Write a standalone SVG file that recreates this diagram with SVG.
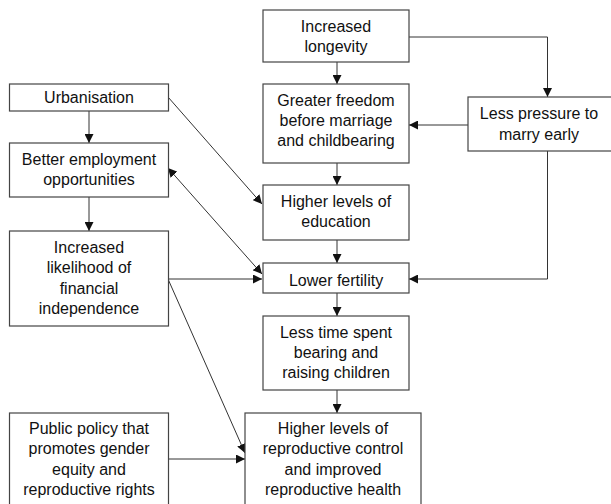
<svg xmlns="http://www.w3.org/2000/svg" width="611" height="504" viewBox="0 0 611 504">
<style>
.box{fill:#fff;stroke:#444;stroke-width:1.2}
text{font-family:"Liberation Sans",Arial,sans-serif;font-size:16px;fill:#111;text-anchor:middle}
.c{fill:none;stroke:#333;stroke-width:1}
</style>
<defs>
<marker id="a" viewBox="0 0 10 10" refX="10" refY="5" markerWidth="9" markerHeight="9" markerUnits="userSpaceOnUse" orient="auto-start-reverse">
<path d="M0,0 L10,5 L0,10 z" fill="#111"/>
</marker>
</defs>
<rect width="611" height="504" fill="#fff"/>
<g id="connectors">
<path class="c" d="M337,62 V84" marker-end="url(#a)"/>
<path class="c" d="M409,37 H547.5 V97" marker-end="url(#a)"/>
<path class="c" d="M468,125 H409" marker-end="url(#a)"/>
<path class="c" d="M337,163 V185" marker-end="url(#a)"/>
<path class="c" d="M337,240 V263" marker-end="url(#a)"/>
<path class="c" d="M547.5,151 V279 H409" marker-end="url(#a)"/>
<path class="c" d="M337,293 V316" marker-end="url(#a)"/>
<path class="c" d="M337,390 V413" marker-end="url(#a)"/>
<path class="c" d="M89,111 V143" marker-end="url(#a)"/>
<path class="c" d="M89,197 V231" marker-end="url(#a)"/>
<path class="c" d="M168,97 L262,204" marker-end="url(#a)"/>
<path class="c" d="M168,168 L262,274" marker-start="url(#a)" marker-end="url(#a)"/>
<path class="c" d="M168,279 H262" marker-end="url(#a)"/>
<path class="c" d="M168,279 L245,453" marker-end="url(#a)"/>
<path class="c" d="M168,459 H245" marker-end="url(#a)"/>
</g>
<g id="n-longevity"><rect class="box" x="263" y="10" width="146" height="52"/>
<text x="336" y="31.5">Increased</text><text x="336" y="51.5">longevity</text></g>
<g id="n-freedom"><rect class="box" x="263" y="84" width="146" height="79"/>
<text x="336" y="105.5">Greater freedom</text><text x="336" y="125.5">before marriage</text><text x="336" y="145.5">and childbearing</text></g>
<g id="n-pressure"><rect class="box" x="468" y="97" width="145" height="54"/>
<text x="539" y="119">Less pressure to</text><text x="539" y="140">marry early</text></g>
<g id="n-urban"><rect class="box" x="9.5" y="84" width="159" height="27"/>
<text x="89" y="103">Urbanisation</text></g>
<g id="n-employment"><rect class="box" x="9.5" y="143" width="159" height="54"/>
<text x="89" y="164.5">Better employment</text><text x="89" y="184.5">opportunities</text></g>
<g id="n-education"><rect class="box" x="263" y="185" width="146" height="55"/>
<text x="336" y="206.5">Higher levels of</text><text x="336" y="226.5">education</text></g>
<g id="n-financial"><rect class="box" x="9.5" y="231" width="159" height="95"/>
<text x="89" y="252.5">Increased</text><text x="89" y="273">likelihood of</text><text x="89" y="293.5">financial</text><text x="89" y="314">independence</text></g>
<g id="n-fertility"><rect class="box" x="263" y="263" width="146" height="30"/>
<text x="336" y="285.5">Lower fertility</text></g>
<g id="n-lesstime"><rect class="box" x="263" y="316" width="146" height="74"/>
<text x="336" y="337.5">Less time spent</text><text x="336" y="357.5">bearing and</text><text x="336" y="377.5">raising children</text></g>
<g id="n-policy"><rect class="box" x="9.5" y="413" width="159" height="95"/>
<text x="89" y="433.5">Public policy that</text><text x="89" y="454">promotes gender</text><text x="89" y="474.5">equity and</text><text x="89" y="494.5">reproductive rights</text></g>
<g id="n-reproductive"><rect class="box" x="245" y="413" width="176" height="95"/>
<text x="333" y="433.5">Higher levels of</text><text x="333" y="454">reproductive control</text><text x="333" y="474.5">and improved</text><text x="333" y="494.5">reproductive health</text></g>
</svg>
